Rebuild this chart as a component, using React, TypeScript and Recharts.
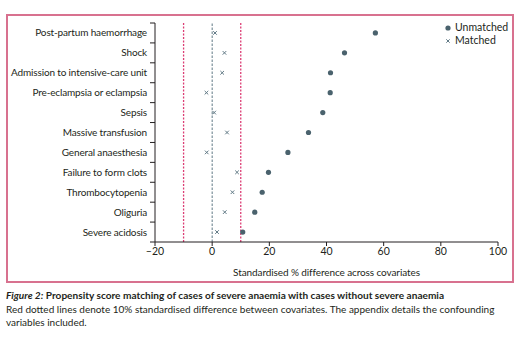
import React from "react";
import {
  ScatterChart,
  Scatter,
  XAxis,
  YAxis,
  ReferenceLine,
  Legend,
} from "recharts";

const categories = [
  "Post-partum haemorrhage",
  "Shock",
  "Admission to intensive-care unit",
  "Pre-eclampsia or eclampsia",
  "Sepsis",
  "Massive transfusion",
  "General anaesthesia",
  "Failure to form clots",
  "Thrombocytopenia",
  "Oliguria",
  "Severe acidosis",
];
const unmatchedValues = [57.1, 46.3, 41.4, 41.3, 38.7, 33.7, 26.5, 19.7, 17.5, 14.9, 10.7];
const matchedValues = [1.0, 4.3, 3.5, -2.0, 0.7, 5.2, -1.9, 8.7, 7.1, 4.4, 1.7];
const xTicks = [-20, 0, 20, 40, 60, 80, 100];
const thresholdLines = [-10, 10];
const seriesNames = ["Unmatched", "Matched"];

const FONT = "Lato, 'Noto Sans', sans-serif";
const TEXT = "#231f20";
const DOT = "#4a626d";
const CROSS = "#5f7884";
const RED = "#dc3d74";
const FRAME = "#d8718f";

const unmatchedData = categories.map((c, i) => ({ name: c, x: unmatchedValues[i], pos: i + 0.5 }));
const matchedData = categories.map((c, i) => ({ name: c, x: matchedValues[i], pos: i + 0.5 }));
const yTicks: number[] = [];
for (let i = 0; i <= categories.length * 2; i++) yTicks.push(i / 2);

const YTick = (props: any) => {
  const { x, y, payload } = props;
  const v = payload.value as number;
  if (Number.isInteger(v)) {
    return <line x1={x + 3} x2={x + 8} y1={y} y2={y} stroke={TEXT} strokeWidth={1} />;
  }
  const label = categories[Math.floor(v)];
  return (
    <text x={x} y={y} dy="0.35em" textAnchor="end" fill={TEXT} fontSize={10} letterSpacing={-0.15} fontFamily={FONT}>
      {label}
    </text>
  );
};

const Dot = (props: any) => {
  const { cx, cy } = props;
  return <circle cx={cx} cy={cy} r={2.6} fill={DOT} />;
};
const Cross = (props: any) => {
  const { cx, cy } = props;
  const s = 1.8;
  return (
    <g stroke={CROSS} strokeWidth={1}>
      <line x1={cx - s} y1={cy - s} x2={cx + s} y2={cy + s} />
      <line x1={cx - s} y1={cy + s} x2={cx + s} y2={cy - s} />
    </g>
  );
};

const LegendContent = () => (
  <div style={{ fontFamily: FONT, fontSize: 10.5, color: TEXT, lineHeight: "13px" }}>
    <div style={{ display: "flex", alignItems: "center" }}>
      <svg width={8} height={8} style={{ marginRight: 3 }}>
        <circle cx={4} cy={4} r={2.6} fill={DOT} />
      </svg>
      {seriesNames[0]}
    </div>
    <div style={{ display: "flex", alignItems: "center" }}>
      <svg width={8} height={8} style={{ marginRight: 3 }}>
        <g stroke={CROSS} strokeWidth={1}>
          <line x1={2.3} y1={2.3} x2={5.7} y2={5.7} />
          <line x1={2.3} y1={5.7} x2={5.7} y2={2.3} />
        </g>
      </svg>
      {seriesNames[1]}
    </div>
  </div>
);

const fmtTick = (v: number) => (v < 0 ? "\u2013" + Math.abs(v) : String(v));

export default function App() {
  return (
    <div style={{ position: "absolute", left: 0, top: 0, width: 530, height: 339, background: "#fff" }}>
      <div
        style={{
          position: "absolute",
          left: 6,
          top: 14,
          width: 508,
          height: 269,
          border: `2px solid ${FRAME}`,
          boxSizing: "border-box",
        }}
      />
      <div style={{ position: "absolute", left: 0, top: 0 }}>
        <ScatterChart width={530} height={290} margin={{ top: 23, right: 32, left: 5, bottom: 14 }}>
          <XAxis
            type="number"
            dataKey="x"
            domain={[-20, 100]}
            ticks={xTicks}
            allowDataOverflow
            height={34}
            tickSize={4}
            tickMargin={2}
            stroke={TEXT}
            tickFormatter={fmtTick}
            tick={{ fill: TEXT, fontSize: 10.5, fontFamily: FONT }}
            label={{
              value: "Standardised % difference across covariates",
              position: "insideBottom",
              offset: 0,
              fill: TEXT,
              fontSize: 10,
              letterSpacing: -0.1,
              fontFamily: FONT,
            }}
          />
          <YAxis
            type="number"
            dataKey="pos"
            domain={[0, categories.length]}
            ticks={yTicks}
            interval={0}
            reversed
            width={150}
            tickSize={5}
            tickMargin={3}
            tickLine={false}
            stroke={TEXT}
            tick={<YTick />}
          />
          {thresholdLines.map((v) => (
            <ReferenceLine key={v} x={v} stroke={RED} strokeWidth={1.3} strokeDasharray="2 1.5" />
          ))}
          <ReferenceLine x={0} stroke={CROSS} strokeWidth={1} strokeDasharray="2.5 1.5" />
          <Legend
            layout="vertical"
            verticalAlign="middle"
            align="center"
            content={<LegendContent />}
            wrapperStyle={{ top: 21, left: 444, width: 80 }}
          />
          <Scatter name={seriesNames[1]} data={matchedData} shape={<Cross />} isAnimationActive={false} />
          <Scatter name={seriesNames[0]} data={unmatchedData} shape={<Dot />} isAnimationActive={false} />
        </ScatterChart>
      </div>
      <div style={{ position: "absolute", left: 6, top: 289, fontFamily: FONT, fontSize: 10, color: TEXT, lineHeight: "13.5px", whiteSpace: "nowrap" }}>
        <div style={{ fontWeight: "bold", fontSize: 10.1 }}>
          <span style={{ fontStyle: "italic" }}>Figure 2:</span> Propensity score matching of cases of severe anaemia with cases without severe anaemia
        </div>
        <div>Red dotted lines denote 10% standardised difference between covariates. The appendix details the confounding</div>
        <div>variables included.</div>
      </div>
    </div>
  );
}
